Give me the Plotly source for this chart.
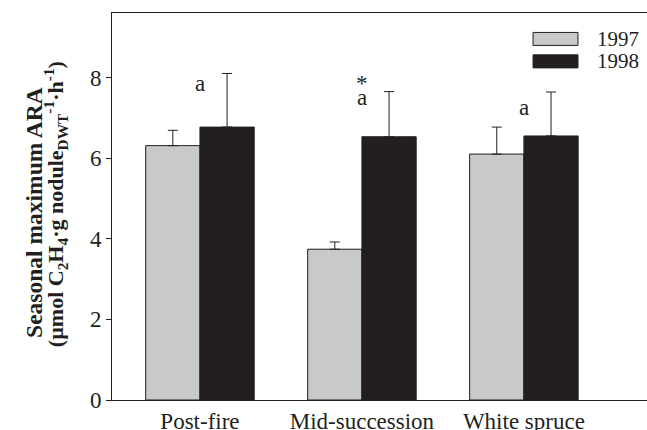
import plotly.graph_objects as go

categories = ["Post-fire", "Mid-succession", "White spruce"]
years = ["1997", "1998"]
vals_1997 = [6.31, 3.74, 6.10]
err_1997 = [0.38, 0.18, 0.67]
vals_1998 = [6.77, 6.53, 6.55]
err_1998 = [1.33, 1.12, 1.09]
letters = ["a", "a", "a"]
letter_y = [7.85, 7.50, 7.25]
stars = ["", "*", ""]
star_y = [0, 7.84, 0]
y_ticks = [0, 2, 4, 6, 8]

DARK = "#231f20"
GRAY = "#c8c9cb"
FONT = "Liberation Serif"
FS = 23

fig = go.Figure()
fig.add_trace(go.Bar(
    x=categories, y=vals_1997, name=years[0],
    marker=dict(color=GRAY, line=dict(color=DARK, width=1)),
    error_y=dict(type="data", array=err_1997, arrayminus=[0]*3, symmetric=False,
                 color=DARK, thickness=1, width=5),
))
fig.add_trace(go.Bar(
    x=categories, y=vals_1998, name=years[1],
    marker=dict(color=DARK, line=dict(color=DARK, width=1)),
    error_y=dict(type="data", array=err_1998, arrayminus=[0]*3, symmetric=False,
                 color=DARK, thickness=1, width=5),
))

for c, t, yv in zip(categories, letters, letter_y):
    fig.add_annotation(x=c, y=yv, text=t, showarrow=False, xref="x", yref="y",
                       font=dict(family=FONT, size=FS, color=DARK), yanchor="middle")
for c, t, yv in zip(categories, stars, star_y):
    if t:
        fig.add_annotation(x=c, y=yv, text=t, showarrow=False, xref="x", yref="y",
                           font=dict(family=FONT, size=FS, color=DARK), yanchor="middle")

# legend drawn as boxes + text
leg_y = [0.933, 0.875]
leg_cols = [GRAY, DARK]
for yy, col, lab in zip(leg_y, leg_cols, years):
    fig.add_shape(type="rect", xref="paper", yref="paper",
                  x0=0.787, x1=0.871, y0=yy - 0.0168, y1=yy + 0.0168,
                  fillcolor=col, line=dict(color=DARK, width=1))
    fig.add_annotation(xref="paper", yref="paper", x=0.903, y=yy, text=lab,
                       showarrow=False, xanchor="left", yanchor="middle",
                       font=dict(family=FONT, size=21, color=DARK))

# y-axis title as two rotated lines
fig.add_annotation(xref="paper", yref="paper", x=-0.1458, y=0.486, textangle=-90,
                   text="<b>Seasonal maximum ARA</b>", showarrow=False,
                   xanchor="center", yanchor="middle",
                   font=dict(family=FONT, size=23.5, color=DARK))
fig.add_annotation(xref="paper", yref="paper", x=-0.1065, y=0.506, textangle=-90,
                   text="<b>(µmol C<sub>2</sub>H<sub>4</sub>·g nodule<sub>DWT</sub><sup>-1</sup>·h<sup>-1</sup>)</b>",
                   showarrow=False, xanchor="center", yanchor="middle",
                   font=dict(family=FONT, size=22, color=DARK))

fig.update_layout(
    width=647, height=430,
    margin=dict(l=112, r=0, t=13, b=30, autoexpand=False),
    paper_bgcolor="white", plot_bgcolor="white",
    barmode="group", bargap=0.33, bargroupgap=0,
    showlegend=False,
    font=dict(family=FONT, size=FS, color=DARK),
    xaxis=dict(range=[-0.543, 2.76], showline=True, linecolor=DARK, linewidth=1,
               mirror=True, ticks="", automargin=False,
               showgrid=False, tickfont=dict(family=FONT, size=FS, color=DARK)),
    # overlay axis that only carries the outside tick marks at the category centres
    xaxis2=dict(overlaying="x", anchor="y", side="bottom", range=[-0.543, 2.76],
                tickmode="array", tickvals=[0, 1, 2], showticklabels=False,
                ticks="outside", ticklen=6, tickcolor=DARK, showline=False,
                showgrid=False, zeroline=False, automargin=False),
    yaxis=dict(range=[0, 9.6], tickvals=y_ticks, showline=True, linecolor=DARK,
               linewidth=1, ticks="outside", ticklen=5, tickcolor=DARK,
               showgrid=False, zeroline=False, automargin=False,
               tickfont=dict(family=FONT, size=FS, color=DARK)),
)

fig.write_html("out.html", config={"displayModeBar": False},
               post_script="document.body.style.margin='0';document.body.style.overflow='hidden';")
